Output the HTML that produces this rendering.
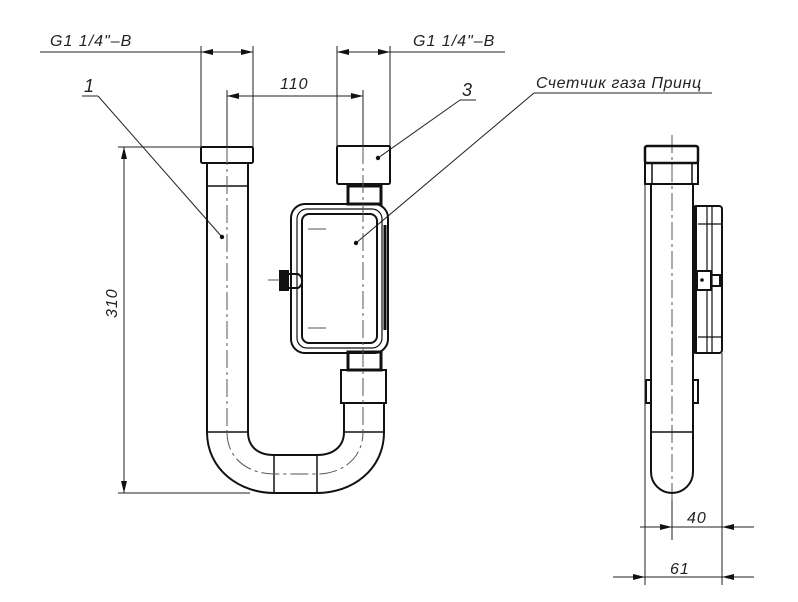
<!DOCTYPE html>
<html><head><meta charset="utf-8"><style>
html,body{margin:0;padding:0;background:#fff}
svg{display:block}
text{font-family:"Liberation Sans",sans-serif;font-style:italic;fill:#222}
</style></head><body>
<svg width="798" height="602" viewBox="0 0 798 602" xmlns="http://www.w3.org/2000/svg">
<defs>
<marker id="a" viewBox="0 0 12 6" refX="12" refY="3" markerWidth="12" markerHeight="6" orient="auto-start-reverse" markerUnits="userSpaceOnUse"><path d="M0,0 L12,3 L0,6 Z" fill="#111"/></marker>
</defs>
<g stroke="#222" fill="none" stroke-width="1">
<line x1="40" y1="52" x2="253" y2="52"/>
<line x1="201" y1="52" x2="253" y2="52" marker-start="url(#a)" marker-end="url(#a)"/>
<line x1="201" y1="46" x2="201" y2="147"/>
<line x1="253" y1="46" x2="253" y2="147"/>
<line x1="337" y1="52" x2="505" y2="52"/>
<line x1="337" y1="52" x2="390" y2="52" marker-start="url(#a)" marker-end="url(#a)"/>
<line x1="337" y1="46" x2="337" y2="146"/>
<line x1="390" y1="46" x2="390" y2="146"/>
<line x1="227" y1="96" x2="363" y2="96" marker-start="url(#a)" marker-end="url(#a)"/>
<line x1="227" y1="90" x2="227" y2="147"/>
<line x1="363" y1="90" x2="363" y2="146"/>
<line x1="118" y1="147" x2="201" y2="147"/>
<line x1="118" y1="493" x2="250" y2="493"/>
<line x1="124" y1="147" x2="124" y2="493" marker-start="url(#a)" marker-end="url(#a)"/>
<line x1="82" y1="96" x2="98" y2="96"/>
<line x1="98" y1="96" x2="222" y2="237"/>
<line x1="460" y1="100" x2="476" y2="100"/>
<line x1="460" y1="100" x2="378" y2="158"/>
<line x1="534" y1="93" x2="712" y2="93"/>
<line x1="534" y1="93" x2="356" y2="243"/>
</g>
<g fill="#111">
<circle cx="222" cy="237" r="2.2"/><circle cx="378" cy="158" r="2.2"/><circle cx="356" cy="243" r="2.2"/>
</g>
<g font-size="16" letter-spacing="1">
<text x="50" y="46">G1 1/4"–B</text>
<text x="413" y="46">G1 1/4"–B</text>
<text x="280" y="89">110</text>
<text x="84" y="92" font-size="18">1</text>
<text x="462" y="96" font-size="18">3</text>
<text x="536" y="88" letter-spacing="0.6">Счетчик газа Принц</text>
<text transform="translate(117,318) rotate(-90)">310</text>
<text x="687" y="523">40</text>
<text x="670" y="574">61</text>
</g>
<g stroke="#111" fill="none" stroke-width="2">
<rect x="201" y="147" width="52" height="16" rx="1.5"/>
<path d="M207,163 V432 M248,163 V432"/>
<line x1="207" y1="186" x2="248" y2="186" stroke-width="1.5"/>
<line x1="207" y1="432" x2="248" y2="432" stroke-width="1.5"/>
<path d="M207,432 C207,470 240,493 274,493 H317 C352,493 384,470 384,432"/>
<path d="M248,432 C248,445 256,455 274,455 H317 C335,455 344,445 344,432"/>
<path d="M274,455 V493 M317,455 V493" stroke-width="1.5"/>
<line x1="344" y1="432" x2="384" y2="432" stroke-width="1.5"/>
<path d="M344,432 V403 M384,432 V403"/>
<rect x="341" y="370" width="45" height="33"/>
<rect x="348" y="352" width="33" height="18" stroke-width="3"/>
<rect x="291" y="204" width="97" height="149" rx="14"/>
<rect x="297" y="209" width="85" height="139" rx="10" stroke-width="1.2"/>
<rect x="302" y="214" width="75" height="129" rx="7"/>
<line x1="385" y1="225" x2="385" y2="330" stroke-width="3"/>
<rect x="348" y="186" width="33" height="18" stroke-width="3"/>
<rect x="337" y="146" width="53" height="38" rx="1.5"/>
<rect x="280" y="271" width="8" height="19" fill="#111"/>
<path d="M288,274 H298 A8,8 0 0 1 298,288 H288" stroke-width="2"/>
</g>
<g stroke="#555" stroke-width="1" fill="none" stroke-dasharray="18,4,3,4">
<line x1="227" y1="147" x2="227" y2="432"/>
<line x1="363" y1="146" x2="363" y2="432"/>
<path d="M227,432 C227,460 250,474 274,474 H317 C340,474 363,460 363,432"/>
<line x1="308" y1="229" x2="330" y2="229"/>
<line x1="308" y1="328" x2="330" y2="328"/>
<line x1="268" y1="280" x2="280" y2="280"/>
<line x1="672" y1="135" x2="672" y2="500"/>
</g>
<g stroke="#111" fill="none" stroke-width="2">
<rect x="645" y="146" width="53" height="17" rx="2" stroke-width="2.5"/>
<rect x="645" y="163" width="53" height="21"/>
<path d="M652,163 V184 M692,163 V184" stroke-width="1.5"/>
<path d="M651,184 V472 A21,21 0 0 0 693,472 V184"/>
<line x1="651" y1="432" x2="693" y2="432" stroke-width="1.5"/>
<rect x="693" y="206" width="29" height="147" rx="3"/>
<line x1="695" y1="206" x2="695" y2="353" stroke-width="4"/>
<path d="M707,206 V353 M712,206 V353 M698,224 H722 M698,337 H722" stroke-width="1.2"/>
<rect x="697" y="271" width="14" height="19" fill="#fff"/>
<rect x="711" y="275" width="9" height="11"/>
<rect x="646" y="380" width="5" height="23"/>
<rect x="693" y="380" width="5" height="23"/>
</g>
<circle cx="702" cy="280" r="1.8" fill="#111"/>
<g stroke="#222" stroke-width="1" fill="none">
<line x1="645" y1="184" x2="645" y2="585"/>
<line x1="722" y1="353" x2="722" y2="585"/>
<line x1="672" y1="500" x2="672" y2="540"/>
<line x1="640" y1="527" x2="672" y2="527" marker-end="url(#a)"/>
<line x1="672" y1="527" x2="752" y2="527"/>
<line x1="754" y1="527" x2="722" y2="527" marker-end="url(#a)"/>
<line x1="613" y1="577" x2="645" y2="577" marker-end="url(#a)"/>
<line x1="645" y1="577" x2="752" y2="577"/>
<line x1="754" y1="577" x2="722" y2="577" marker-end="url(#a)"/>
</g>
</svg>
</body></html>
